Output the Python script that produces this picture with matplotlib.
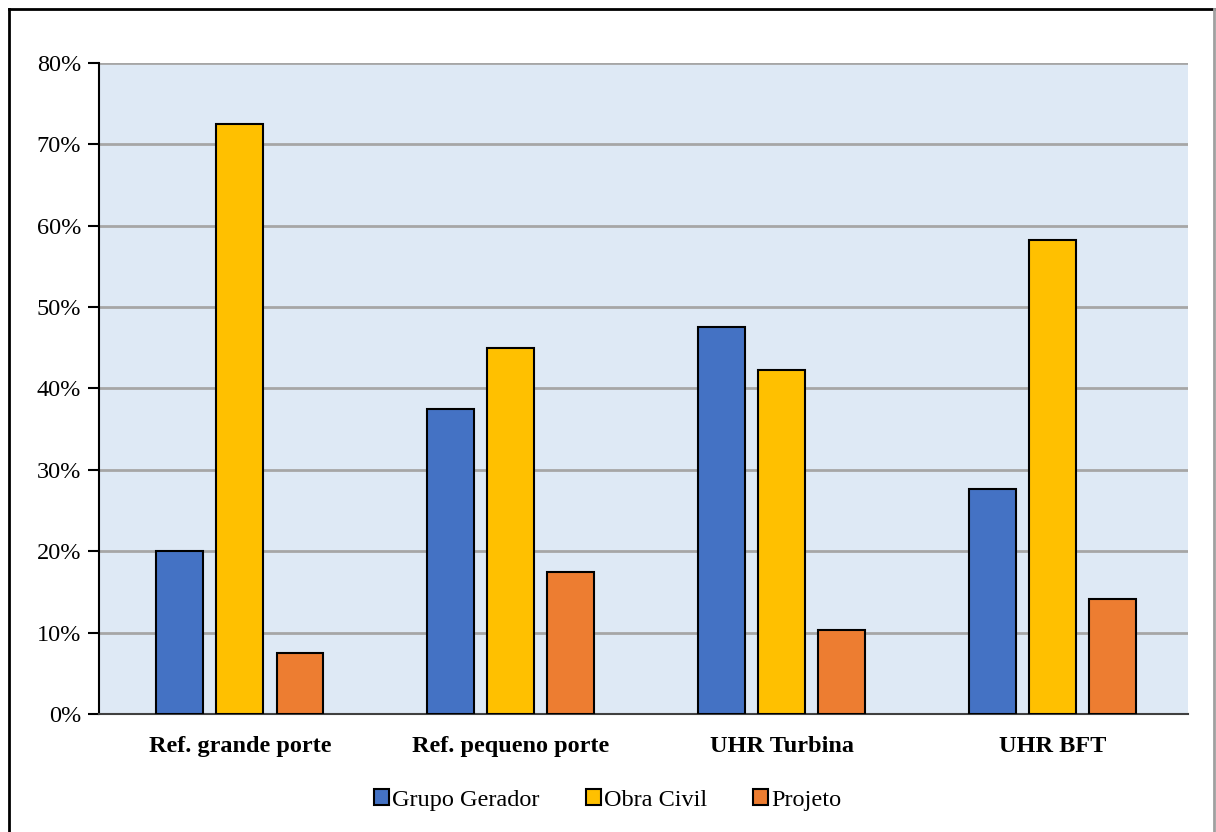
import matplotlib.pyplot as plt
import numpy as np
from matplotlib.lines import Line2D
from matplotlib.ticker import PercentFormatter

categories = ['Ref. grande porte', 'Ref. pequeno porte', 'UHR Turbina', 'UHR BFT']
series = ['Grupo Gerador', 'Obra Civil', 'Projeto']
grupo_gerador = [20.0, 37.5, 47.5, 27.7]
obra_civil = [72.5, 45.0, 42.3, 58.2]
projeto = [7.5, 17.5, 10.3, 14.1]
colors = ['#4472C4', '#FFC000', '#ED7D31']

plt.rcParams['font.family'] = ['Liberation Serif', 'DejaVu Serif']
fs = 17.5

fig = plt.figure(figsize=(12.16, 8.32), dpi=100)
ax = fig.add_axes([99 / 1216, 1 - 714 / 832, 1089 / 1216, 651 / 832])

x = np.arange(len(categories))
w = 0.173
step = 0.222
for i, (vals, name) in enumerate(zip([grupo_gerador, obra_civil, projeto], series)):
    ax.bar(x + (i - 1) * step, vals, width=w, color=colors[i], edgecolor='black',
           linewidth=1.5, label=name, zorder=3)

ax.set_facecolor('#DEE9F5')
ax.set_ylim(0, 80)
ax.set_xlim(-0.52, 3.5)
ax.set_yticks(np.arange(0, 81, 10))
ax.yaxis.set_major_formatter(PercentFormatter(decimals=0))
ax.yaxis.grid(True, color='#A6A6A6', linewidth=2, zorder=1)
ax.set_axisbelow(True)
ax.set_xticks(x)
ax.set_xticklabels(categories, fontweight='bold', fontsize=fs)
ax.tick_params(axis='x', length=0, pad=16)
ax.tick_params(axis='y', labelsize=fs, length=8, width=1.5, direction='out', pad=5)
for s in ['top', 'right']:
    ax.spines[s].set_visible(False)
ax.spines['left'].set_linewidth(1.5)
ax.spines['bottom'].set_linewidth(1.5)
ax.spines['bottom'].set_color('#404040')

ax.legend(loc='center', bbox_to_anchor=(0.5, 1 - 800 / 832), bbox_transform=fig.transFigure,
          ncol=3, frameon=False, fontsize=fs, handlelength=0.6, handleheight=0.6,
          handletextpad=0.15, columnspacing=1.9)

# outer chart frame
fig.add_artist(Line2D([9 / 1216, 9 / 1216], [0, 1 - 9 / 832], color='black', lw=2, transform=fig.transFigure))
fig.add_artist(Line2D([9 / 1216, 1214 / 1216], [1 - 9 / 832, 1 - 9 / 832], color='black', lw=2, transform=fig.transFigure))
fig.add_artist(Line2D([1214 / 1216, 1214 / 1216], [0, 1 - 9 / 832], color='#A0A0A0', lw=2, transform=fig.transFigure))

fig.savefig('out.png', dpi=100)
